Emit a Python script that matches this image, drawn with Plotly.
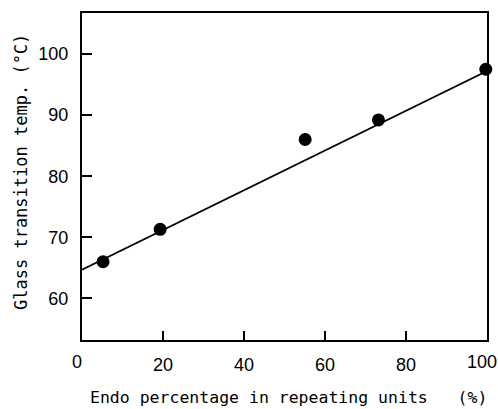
import plotly.graph_objects as go

endo_pct = [5.2, 19.3, 55.1, 73.2, 99.7]
tg = [66.0, 71.3, 86.0, 89.2, 97.5]
fit_x = [0, 100]
fit_y = [64.7, 97.2]
x_inner_ticks = [20, 40, 60, 80]
x_edge_ticks = [0, 100]
y_ticks = [60, 70, 80, 90, 100]
x_title = "Endo percentage in repeating units\u00a0\u00a0\u00a0(%)"
y_title = "Glass transition temp. (°C)"

fig = go.Figure()
fig.add_trace(go.Scatter(x=fit_x, y=fit_y, mode="lines", xaxis="x2",
                         line=dict(color="black", width=1.8), showlegend=False))
fig.add_trace(go.Scatter(x=endo_pct, y=tg, mode="markers",
                         marker=dict(color="black", size=13), showlegend=False,
                         cliponaxis=False))

tickfont = dict(family="Liberation Sans, sans-serif", size=18, color="black")
mono = "DejaVu Sans Mono, monospace"

fig.update_layout(
    width=498, height=409,
    margin=dict(l=82, r=11, t=13, b=69),
    paper_bgcolor="white", plot_bgcolor="white",
    xaxis=dict(range=[0, 100], tickvals=x_inner_ticks, ticks="inside",
               ticklen=9, tickwidth=2,
               tickcolor="black", showline=True, linecolor="black", linewidth=2, mirror=True,
               showgrid=False, zeroline=False, tickfont=tickfont, ticklabelstandoff=7,
               ticklabeloverflow="allow", automargin=False),
    xaxis2=dict(range=[0, 100], overlaying="x", matches="x", anchor="y", side="bottom",
                tickvals=x_edge_ticks, ticks="", showline=False, showgrid=False,
                zeroline=False, tickfont=tickfont, ticklabelstandoff=9, ticklabelshift=-5,
                ticklabeloverflow="allow", automargin=False),
    yaxis=dict(range=[53.2, 106.7], tickvals=y_ticks, ticks="inside", ticklen=10, tickwidth=2,
               tickcolor="black", showline=True, linecolor="black", linewidth=2, mirror=True,
               showgrid=False, zeroline=False, tickfont=tickfont, ticklabelstandoff=8,
               automargin=False),
    annotations=[
        dict(text=x_title, xref="paper", yref="paper", x=(288 - 82) / 405, y=-(397 - 340) / 327,
             xanchor="center", yanchor="middle", showarrow=False,
             font=dict(family=mono, size=16.5, color="black")),
        dict(text=y_title, xref="paper", yref="paper", x=-(82 - 21) / 405, y=(340 - 172) / 327,
             xanchor="center", yanchor="middle", showarrow=False, textangle=-90,
             font=dict(family=mono, size=17, color="black")),
    ],
)

fig.write_html("out.html")
